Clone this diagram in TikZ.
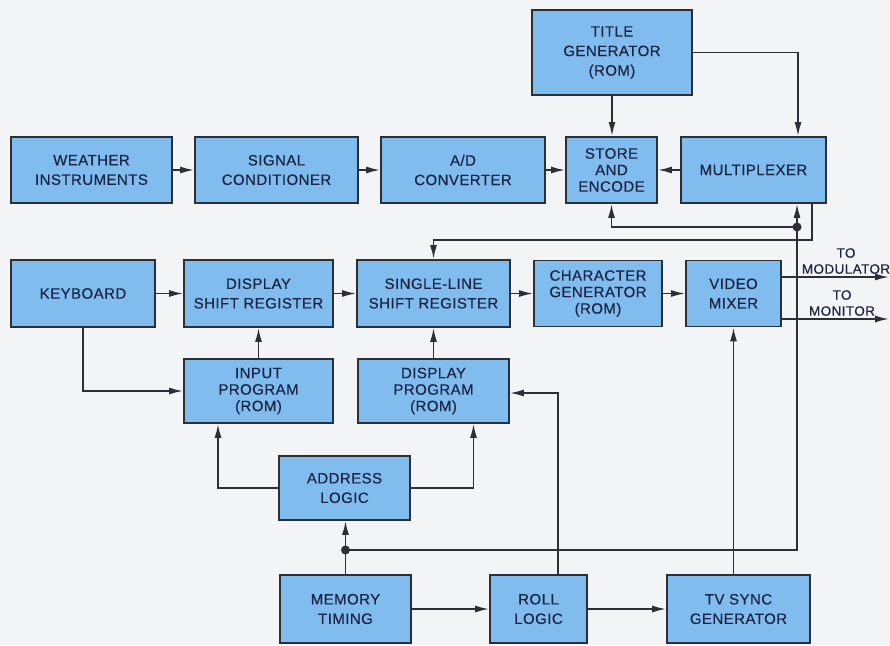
\documentclass[tikz,border=0pt]{standalone}
\usepackage{fontspec}
\setmainfont{Liberation Sans}
\newfontfamily\lettering[FakeBold=0.4,LetterSpace=3]{Liberation Sans}
\usetikzlibrary{arrows.meta}
\definecolor{boxblue}{RGB}{128,188,238}
\definecolor{inkgray}{RGB}{45,47,55}
\definecolor{textnavy}{RGB}{28,36,68}
\definecolor{paper}{RGB}{243,244,246}

\begin{document}
\begin{tikzpicture}[x=1pt,y=-1pt,
  blk/.style={draw=inkgray,line width=1.8pt,fill=boxblue,text=textnavy,inner sep=0pt,
    align=center,font=\lettering\fontsize{15}{19.5}\selectfont},
  tight/.style={font=\lettering\fontsize{15}{16.5}\selectfont},
  lbl/.style={text=textnavy,inner sep=1pt,align=center,font=\lettering\fontsize{13.5}{16}\selectfont},
  arr/.style={inkgray,line width=1.7pt,-{Latex[length=14pt,width=7pt]}},
  wire/.style={inkgray,line width=1.7pt}]
  \fill[paper] (0,0) rectangle (890,645);
  \useasboundingbox (0,0) rectangle (890,645);

  % top row
  \node[blk,minimum width=160pt,minimum height=85pt] (tgen) at (612,52.5) {TITLE\\GENERATOR\\(ROM)};
  \node[blk,minimum width=161pt,minimum height=66pt] (weather) at (91.5,170) {WEATHER\\INSTRUMENTS};
  \node[blk,minimum width=163pt,minimum height=66pt] (signal) at (276.5,170) {SIGNAL\\CONDITIONER};
  \node[blk,minimum width=164pt,minimum height=66pt] (adc) at (463,170) {A/D\\CONVERTER};
  \node[blk,tight,minimum width=91pt,minimum height=66pt] (store) at (611.5,170) {STORE\\AND\\ENCODE};
  \node[blk,minimum width=145pt,minimum height=66pt] (mux) at (753.5,170) {MULTIPLEXER};

  % display row
  \node[blk,minimum width=144pt,minimum height=67pt] (kbd) at (83,293.5) {KEYBOARD};
  \node[blk,minimum width=149pt,minimum height=67pt] (dsr) at (258.5,293.5) {DISPLAY\\SHIFT REGISTER};
  \node[blk,minimum width=153pt,minimum height=67pt] (slsr) at (433.5,293.5) {SINGLE-LINE\\SHIFT REGISTER};
  \node[blk,tight,minimum width=128pt,minimum height=66pt] (cgen) at (598,293.5) {CHARACTER\\GENERATOR\\(ROM)};
  \node[blk,minimum width=95pt,minimum height=66pt] (vmix) at (733.5,293.5) {VIDEO\\MIXER};

  % programs and timing
  \node[blk,tight,minimum width=149pt,minimum height=64pt] (inprog) at (258.5,391) {INPUT\\PROGRAM\\(ROM)};
  \node[blk,tight,minimum width=151pt,minimum height=64pt] (dprog) at (433.5,391) {DISPLAY\\PROGRAM\\(ROM)};
  \node[blk,minimum width=131pt,minimum height=64pt] (addr) at (344.5,488) {ADDRESS\\LOGIC};
  \node[blk,minimum width=131pt,minimum height=68pt] (memt) at (345.5,609) {MEMORY\\TIMING};
  \node[blk,minimum width=97pt,minimum height=68pt] (roll) at (538.5,609) {ROLL\\LOGIC};
  \node[blk,minimum width=143pt,minimum height=68pt] (tvs) at (738.5,609) {TV SYNC\\GENERATOR};

  % data path
  \draw[arr] (weather) -- (signal);
  \draw[arr] (signal) -- (adc);
  \draw[arr] (adc) -- (store);
  \draw[arr] (mux) -- (store);
  \draw[arr] (tgen.south) -- (tgen.south |- store.north);
  \draw[arr] (tgen.east) -| ([xshift=44.5pt]mux.north);
  \coordinate (ret) at (433.5,240);
  \draw[arr] ([xshift=58.5pt]mux.south) |- (ret) -- (slsr.north);
  \draw[arr] (kbd) -- (dsr);
  \draw[arr] (dsr) -- (slsr);
  \draw[arr] (slsr) -- (cgen);
  \draw[arr] (cgen) -- (vmix);
  \draw[arr] (kbd.south) |- (inprog.west);
  \draw[arr] (inprog) -- (dsr);
  \draw[arr] (dprog) -- (slsr);

  % timing bus
  \coordinate (busr) at (797,227);
  \coordinate (busl) at (345.5,550);
  \draw[arr] (busr) -| (store.south);
  \draw[arr] (busr) -- (busr |- mux.south);
  \draw[wire] (busr) |- (busl);
  \draw[wire] (memt.north) -- (busl);
  \draw[arr] (busl) -- (busl |- addr.south);
  \fill[inkgray] (busr) circle (4.5pt);
  \fill[inkgray] (busl) circle (4.5pt);
  \draw[arr] (addr.west) -| ([xshift=-40.5pt]inprog.south);
  \draw[arr] (addr.east) -| ([xshift=40pt]dprog.south);
  \draw[arr] ([xshift=19.5pt]roll.north) |- ([yshift=-2pt]dprog.east);
  \draw[arr] (memt) -- (roll);
  \draw[arr] (roll) -- (tvs);
  \draw[arr] (vmix.south |- tvs.north) -- (vmix.south);

  % outputs
  \coordinate (tomod) at (889,277);
  \coordinate (tomon) at (889,319);
  \draw[arr] (vmix.east |- tomod) -- (tomod);
  \draw[arr] (vmix.east |- tomon) -- (tomon);
  \node[lbl,anchor=south] (modlbl) at (846,275) {TO\\MODULATOR};
  \node[lbl,anchor=south] (monlbl) at (842,317) {TO\\MONITOR};
\end{tikzpicture}
\end{document}
